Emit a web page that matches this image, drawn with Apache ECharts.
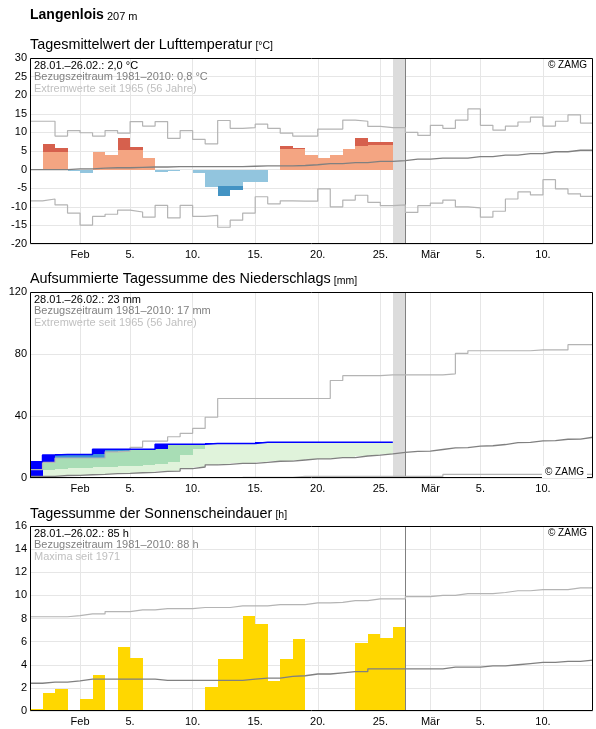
<!DOCTYPE html>
<html>
<head>
<meta charset="utf-8">
<script src="https://cdn.jsdelivr.net/npm/echarts@6/dist/echarts.min.js"></script>
<style>
  html, body { margin: 0; padding: 0; background: #fff; }
  #chart { width: 596px; height: 729px; }
</style>
</head>
<body>
<div id="chart"></div>
<script>
// days are counted from 28.01. (0) to 14.03. (45), one unit per day
const tickDays = [4, 8, 13, 18, 23, 28, 32, 36, 41];
const tickLabels = ['Feb', '5.', '10.', '15.', '20.', '25.', 'Mär', '5.', '10.'];
const todayDay = 29; // 26.02.

// Lufttemperatur, Tagesmittel 28.01.-25.02. (°C) and where the bar colour turns darker
const tempValue = [0, 6.9, 5.8, -0.4, -0.9, 4.7, 3.9, 8.5, 6.1, 3.1, -0.6, -0.5, 0, -1.0, -4.8, -7.2, -5.5, -3.3, -3.4, 0, 6.3, 5.8, 3.9, 3.1, 3.9, 5.5, 8.5, 7.4, 7.4];
const tempSplit = [0, 4.8, 4.8, -0.4, -0.9, 4.7, 3.9, 5.2, 5.2, 3.1, -0.6, -0.5, 0, -1.0, -4.6, -4.3, -4.3, -3.3, -3.4, 0, 5.5, 5.5, 3.9, 3.1, 3.9, 5.5, 6.3, 6.6, 6.6];
const tempMean = [0.0, 0.0, 0.0, 0.2, 0.2, 0.4, 0.5, 0.5, 0.6, 0.7, 0.7, 0.8, 0.8, 0.8, 0.8, 0.8, 0.8, 0.9, 1.0, 1.0, 1.0, 1.1, 1.3, 1.6, 1.6, 1.9, 1.9, 2.2, 2.2, 2.4, 2.8, 2.8, 3.1, 3.1, 3.1, 3.5, 3.5, 3.9, 3.9, 4.3, 4.3, 4.8, 4.8, 5.2, 5.2];
const tempMax = [13.0, 13.0, 9.0, 10.5, 9.9, 9.0, 10.5, 9.8, 12.9, 11.7, 12.9, 8.4, 10.5, 8.1, 6.9, 13.2, 11.1, 11.3, 12.2, 11.1, 9.8, 9.0, 9.0, 10.9, 10.9, 13.3, 13.0, 11.6, 11.3, 11.3, 10.0, 9.2, 11.9, 11.1, 13.3, 16.3, 11.9, 10.6, 11.7, 12.8, 14.1, 11.7, 13.0, 14.7, 12.5];
const tempMin = [-8.4, -7.9, -9.5, -11.7, -14.9, -12.6, -12.0, -10.9, -11.4, -12.8, -9.6, -13.0, -9.6, -12.6, -12.3, -15.5, -13.6, -11.7, -7.3, -9.2, -8.4, -8.5, -8.5, -5.2, -10.0, -8.2, -6.9, -8.8, -9.7, -9.5, -11.5, -9.7, -9.0, -8.2, -10.0, -10.3, -12.8, -11.2, -7.9, -6.0, -6.8, -2.7, -5.2, -6.5, -7.2];

// Niederschlag, aufsummiert (mm)
const precipSum = [10.5, 14.8, 15.2, 15.2, 15.2, 18.6, 18.6, 18.6, 18.6, 18.6, 21.8, 21.8, 21.8, 21.8, 22.3, 22.3, 22.3, 22.3, 23.1, 23.1, 23.1, 23.1, 23.1, 23.1, 23.1, 23.1, 23.1, 23.1, 23.1];
const precipHigh = [4.5, 5.1, 5.5, 6.2, 6.5, 6.9, 7.3, 7.6, 8.0, 8.5, 9.0, 10.5, 14.8, 18.6];
const precipMean = [1.0, 1.1, 1.6, 1.7, 2.1, 2.4, 2.8, 3.0, 3.4, 3.6, 4.3, 4.5, 6.0, 7.1, 8.5, 8.8, 9.4, 9.5, 10.1, 10.8, 10.9, 11.6, 12.3, 12.4, 13.1, 13.2, 14.2, 14.8, 15.5, 16.5, 17.2, 17.4, 18.4, 19.4, 19.6, 20.6, 20.8, 21.6, 22.8, 23.0, 23.9, 24.1, 25.0, 25.1, 26.3];
const precipMax = [5.4, 10.1, 12.9, 12.9, 12.9, 12.9, 16.9, 17.4, 19.8, 23.8, 23.8, 26.6, 28.8, 32.0, 39.2, 51.3, 51.3, 51.3, 51.3, 51.3, 51.3, 51.3, 51.3, 51.3, 62.9, 66.0, 66.0, 66.0, 66.5, 66.5, 66.5, 66.5, 66.5, 67.2, 80.4, 82.1, 82.1, 82.1, 82.1, 82.1, 82.6, 82.6, 82.6, 86.0, 86.0];
const precipMin = [null, null, null, null, null, null, null, null, null, null, null, null, null, null, null, null, null, 0.4, 0.4, 0.4, 0.4, 1.0, 1.0, 1.0, 1.0, 1.0, 1.0, 1.0, 1.0, 1.0, 1.0, 1.0, 1.0, 2.3, 2.3, 2.3, 2.3, 2.3, 2.3, 2.3, 2.3, 2.3, 2.3, 2.3, 2.3];

// Sonnenscheindauer (h)
const sunHours = [0.2, 1.6, 1.9, 0, 1.0, 3.1, 0, 5.5, 4.6, 0, 0, 0, 0, 0, 2.1, 4.5, 4.5, 8.2, 7.5, 2.6, 4.5, 6.2, 0, 0, 0, 0, 5.9, 6.7, 6.3, 7.3];
const sunMean = [2.4, 2.5, 2.5, 2.6, 2.75, 2.75, 2.75, 2.75, 2.75, 2.75, 2.65, 2.65, 2.65, 2.65, 2.65, 2.65, 2.65, 2.75, 2.85, 2.85, 3.0, 3.05, 3.2, 3.2, 3.3, 3.4, 3.4, 3.65, 3.65, 3.65, 3.65, 3.65, 3.65, 3.8, 3.8, 3.8, 3.9, 3.9, 4.0, 4.1, 4.2, 4.2, 4.3, 4.3, 4.4];
const sunMax = [8.15, 8.15, 8.15, 8.25, 8.4, 8.4, 8.6, 8.6, 8.75, 8.75, 8.85, 8.85, 8.85, 8.95, 8.95, 8.95, 9.1, 9.1, 9.1, 9.2, 9.2, 9.2, 9.35, 9.35, 9.4, 9.55, 9.55, 9.7, 9.7, 9.7, 9.9, 9.9, 10.0, 10.0, 10.15, 10.15, 10.15, 10.25, 10.4, 10.4, 10.5, 10.5, 10.5, 10.65, 10.65];

const FONT = 'Liberation Sans, Arial, sans-serif';
const GRID_LINE = '#e6e6e6';
const EXTREME = '#b4b4b4';
const MEAN = '#808080';

const dayIndex = [];
for (let i = 0; i <= 45; i++) dayIndex.push(String(i));

const chart = echarts.init(document.getElementById('chart'));

function stepData(values) {
  const pts = values.map((v, i) => [i, v]);
  pts.push([values.length, values[values.length - 1]]);
  return pts;
}

function stepLine(grid, values, color, width) {
  return {
    type: 'line', xAxisIndex: grid * 2, yAxisIndex: grid,
    data: stepData(values), step: 'end', symbol: 'none', silent: true,
    lineStyle: { color: color, width: width }, z: 5
  };
}

function dayRect(api, d, y0, y1, color) {
  const a = api.coord([d, y0]);
  const b = api.coord([d + 1, y1]);
  const x0 = Math.round(a[0]), x1 = Math.round(b[0]);
  const top = Math.round(Math.min(a[1], b[1])), bottom = Math.round(Math.max(a[1], b[1]));
  return {
    type: 'rect',
    shape: { x: x0, y: top, width: x1 - x0, height: bottom - top },
    style: { fill: color }
  };
}

function todaySeries(grid, withBand) {
  return {
    type: 'custom', xAxisIndex: grid * 2, yAxisIndex: grid, z: 2, silent: true,
    data: [[todayDay, 0]],
    renderItem: function (params, api) {
      const cs = params.coordSys;
      const x0 = Math.round(api.coord([todayDay, 0])[0]);
      const x1 = Math.round(api.coord([todayDay + 1, 0])[0]);
      const children = [];
      if (withBand) {
        children.push({ type: 'rect', shape: { x: x0, y: cs.y, width: x1 - x0, height: cs.height }, style: { fill: '#dcdcdc' } });
      }
      children.push({ type: 'line', shape: { x1: x1 + 0.5, y1: cs.y, x2: x1 + 0.5, y2: cs.y + cs.height }, style: { stroke: MEAN, lineWidth: 1 } });
      return { type: 'group', children: children };
    }
  };
}

const grids = [
  { left: 30, top: 58, width: 563, height: 186 },
  { left: 30, top: 292, width: 563, height: 186 },
  { left: 30, top: 526, width: 563, height: 185 }
];

const xAxes = [];
grids.forEach(function (g, i) {
  xAxes.push({ gridIndex: i, type: 'value', position: 'bottom', min: 0, max: 45, show: false });
  xAxes.push({
    gridIndex: i, type: 'category', position: 'bottom', boundaryGap: false, data: dayIndex,
    axisLine: { show: false }, axisTick: { show: false },
    axisLabel: {
      interval: function (index) { return tickDays.indexOf(index) >= 0; },
      formatter: function (value, index) {
        const k = tickDays.indexOf(Number(value));
        return k >= 0 ? tickLabels[k] : '';
      },
      margin: 5, fontSize: 11, color: '#000', fontFamily: FONT
    },
    splitLine: {
      show: true,
      interval: function (index) { return tickDays.indexOf(index) >= 0; },
      lineStyle: { color: GRID_LINE, width: 1 }
    }
  });
});

function yAxis(grid, min, max, interval) {
  return {
    gridIndex: grid, type: 'value', min: min, max: max, interval: interval,
    axisLine: { show: false }, axisTick: { show: false },
    axisLabel: { margin: 3, fontSize: 11, color: '#000', fontFamily: FONT },
    splitLine: { show: true, lineStyle: { color: GRID_LINE, width: 1 } }
  };
}

function frame(g) {
  return {
    type: 'rect', z: 100, silent: true,
    shape: { x: g.left + 0.5, y: g.top + 0.5, width: g.width - 1, height: g.height - 1 },
    style: { fill: 'none', stroke: '#000', lineWidth: 1 }
  };
}

function text(x, y, str, color, size, align) {
  return {
    type: 'text', x: x, y: y, z: 110, silent: true,
    style: {
      text: str, fill: color, fontSize: size, fontFamily: FONT,
      align: align || 'left', textAlign: align || 'left',
      verticalAlign: 'middle', textVerticalAlign: 'middle'
    }
  };
}

function title(y, main, unit, bold) {
  return {
    type: 'text', x: 30, y: y, z: 110, silent: true,
    style: {
      text: '{m|' + main + '} {u|' + unit + '}',
      fontFamily: FONT, fontSize: 11, fill: '#000',
      verticalAlign: 'middle', textVerticalAlign: 'middle',
      rich: {
        m: { fontFamily: FONT, fontSize: bold ? 14 : 14.4, fontWeight: bold ? 'bold' : 'normal', fill: '#000', verticalAlign: 'bottom', lineHeight: 17 },
        u: { fontFamily: FONT, fontSize: bold ? 11 : 10.5, fill: '#000', verticalAlign: 'bottom', lineHeight: 17 }
      }
    }
  };
}

function info(g, lines, colors) {
  return lines.map(function (s, i) {
    return text(g.left + 4, g.top + 7.5 + i * 11.5, s, colors[i], 11);
  });
}

const infoColors = ['#000', '#808080', '#c0c0c0'];

const option = {
  animation: false,
  backgroundColor: '#fff',
  grid: grids.map(function (g) {
    return Object.assign({ show: false, containLabel: false, outerBoundsMode: 'none' }, g);
  }),
  xAxis: xAxes,
  yAxis: [yAxis(0, -20, 30, 5), yAxis(1, 0, 120, 40), yAxis(2, 0, 16, 2)],
  graphic: [
    title(13.5, 'Langenlois', '207 m', true),
    title(43.5, 'Tagesmittelwert der Lufttemperatur', '[°C]', false),
    title(278, 'Aufsummierte Tagessumme des Niederschlags', '[mm]', false),
    title(512.5, 'Tagessumme der Sonnenscheindauer', '[h]', false),
    frame(grids[0]), frame(grids[1]), frame(grids[2])
  ].concat(
    info(grids[0], ['28.01.–26.02.: 2,0 °C', 'Bezugszeitraum 1981–2010: 0,8 °C', 'Extremwerte seit 1965 (56 Jahre)'], infoColors),
    info(grids[1], ['28.01.–26.02.: 23 mm', 'Bezugszeitraum 1981–2010: 17 mm', 'Extremwerte seit 1965 (56 Jahre)'], infoColors),
    info(grids[2], ['28.01.–26.02.: 85 h', 'Bezugszeitraum 1981–2010: 88 h', 'Maxima seit 1971'], infoColors),
    [
      text(587, 65.5, '© ZAMG', '#000', 10, 'right'),
      text(587, 472, '© ZAMG', '#000', 10, 'right'),
      text(587, 533.5, '© ZAMG', '#000', 10, 'right')
    ]
  ),
  series: [
    // Lufttemperatur
    todaySeries(0, true),
    {
      type: 'custom', xAxisIndex: 0, yAxisIndex: 0, z: 3, silent: true,
      data: tempValue.map(function (v, d) { return [d, v]; }),
      renderItem: function (params, api) {
        const d = api.value(0), v = api.value(1), s = tempSplit[d];
        const warm = v >= 0;
        return {
          type: 'group',
          children: [
            dayRect(api, d, 0, s, warm ? '#f4a582' : '#92c5de'),
            dayRect(api, d, s, v, warm ? '#d6604d' : '#4393c3')
          ]
        };
      }
    },
    stepLine(0, tempMax, EXTREME, 1.2),
    stepLine(0, tempMin, EXTREME, 1.2),
    stepLine(0, tempMean, MEAN, 1.3),

    // Niederschlag
    todaySeries(1, true),
    {
      type: 'custom', xAxisIndex: 2, yAxisIndex: 1, z: 3, silent: true,
      data: precipSum.map(function (v, d) { return [d, v]; }),
      renderItem: function (params, api) {
        const d = api.value(0);
        const cur = precipSum[d];
        const prev = d > 0 ? precipSum[d - 1] : 0;
        const mean = precipMean[d], high = precipHigh[d], max = precipMax[d];
        const ch = [];
        if (cur > mean) ch.push(dayRect(api, d, mean, cur, '#e0f3db'));
        if (high != null && Math.min(cur, max) > high) ch.push(dayRect(api, d, high, Math.min(cur, max), '#a8ddb5'));
        if (cur > max) ch.push(dayRect(api, d, max, cur, '#3f95d5'));
        if (cur > prev) ch.push(dayRect(api, d, prev, cur, '#0000ff'));
        return { type: 'group', children: ch };
      }
    },
    stepLine(1, precipMax, EXTREME, 1.2),
    stepLine(1, precipMin, EXTREME, 1.2),
    stepLine(1, precipMean, MEAN, 1.3),
    stepLine(1, precipSum, '#0000ff', 1.5),

    // Sonnenscheindauer
    {
      type: 'custom', xAxisIndex: 4, yAxisIndex: 2, z: 3, silent: true,
      data: sunHours.map(function (v, d) { return [d, v]; }),
      renderItem: function (params, api) {
        const d = api.value(0), v = api.value(1);
        return dayRect(api, d, 0, v, '#ffd700');
      }
    },
    todaySeries(2, false),
    stepLine(2, sunMax, EXTREME, 1.2),
    stepLine(2, sunMean, MEAN, 1.3)
  ]
};

// white box behind the lower copyright note
const zamgPrecip = option.graphic[option.graphic.length - 2];
zamgPrecip.style.backgroundColor = '#fff';
zamgPrecip.style.padding = [1, 3];

chart.setOption(option);
</script>
</body>
</html>
